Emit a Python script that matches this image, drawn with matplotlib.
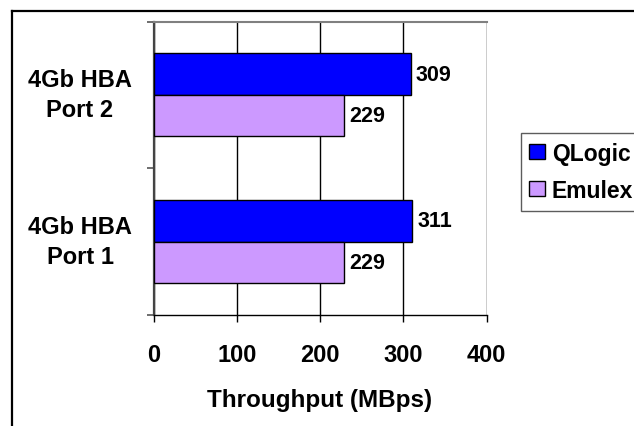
import matplotlib
matplotlib.use("Agg")
import matplotlib.pyplot as plt
import matplotlib.transforms as mtransforms
from matplotlib.lines import Line2D
from matplotlib.patches import Patch
import numpy as np

plt.rcParams['font.family'] = ['Liberation Sans', 'DejaVu Sans']
plt.rcParams['font.weight'] = 'bold'

# Data
categories = ["4Gb HBA\nPort 1", "4Gb HBA\nPort 2"]
series_names = ["QLogic", "Emulex"]
qlogic = [311, 309]
emulex = [229, 229]
x_ticks = [0, 100, 200, 300, 400]

colors = {"QLogic": "#0000FF", "Emulex": "#CC99FF"}

W, H, DPI = 634, 427, 100
fig = plt.figure(figsize=(W / DPI, H / DPI), dpi=DPI)

left, right = 153.5 / W, 486.5 / W
bottom, top = 1 - 316 / H, 1 - 22.5 / H
ax = fig.add_axes([left, bottom, right - left, top - bottom])

# Outer chart frame (runs off the right and bottom edges)
fx, fy = 11.5 / W, 1 - 11.5 / H
fig.add_artist(Line2D([fx, fx], [0.0, fy], transform=fig.transFigure,
                      color="black", linewidth=1.6, zorder=10))
fig.add_artist(Line2D([fx, 0.999], [fy, fy], transform=fig.transFigure,
                      color="black", linewidth=1.6, zorder=10))

centers = np.arange(len(categories)) + 0.5
h = 0.283
b1 = ax.barh(centers + h / 2, qlogic, height=h, color=colors["QLogic"],
             edgecolor="black", linewidth=1.0, zorder=3, label="QLogic")
b2 = ax.barh(centers - h / 2, emulex, height=h, color=colors["Emulex"],
             edgecolor="black", linewidth=1.0, zorder=3, label="Emulex")

for bars in (b1, b2):
    ax.bar_label(bars, labels=[f"{v:g}" for v in bars.datavalues], padding=3.5,
                 fontsize=15.5, fontweight="bold", color="black")

ax.set_xlim(0, 400)
ax.set_ylim(0, len(categories))
ax.set_xticks(x_ticks)
ax.set_xticklabels([str(t) for t in x_ticks], fontsize=17, fontweight="bold")
ax.tick_params(axis="x", direction="out", length=5, width=1, pad=15, colors="black")
ax.set_yticks(np.arange(len(categories) + 1))
ax.set_yticklabels([])
ax.tick_params(axis="y", direction="out", length=5, width=1.2, color="#555555")

ax.xaxis.grid(True, color="black", linewidth=1.0, zorder=1)
ax.set_axisbelow(True)

ax.spines["right"].set_visible(False)
ax.spines["top"].set_color("#808080")
ax.spines["top"].set_linewidth(1.5)
ax.spines["left"].set_color("#444444")
ax.spines["left"].set_linewidth(1.6)
ax.spines["bottom"].set_color("black")
ax.spines["bottom"].set_linewidth(1.0)

# Category labels centred to the left of the axis
trans = mtransforms.blended_transform_factory(ax.transAxes, ax.transData)
for c, lab in zip(centers, categories):
    ax.text(-0.2207, c, lab, transform=trans, ha="center", va="center",
            multialignment="center", fontsize=17, fontweight="bold",
            linespacing=1.38)

ax.set_xlabel("Throughput (MBps)", fontsize=17.5, fontweight="bold", labelpad=16)

handles = [Patch(facecolor=colors[n], edgecolor="black", linewidth=1.0) for n in series_names]
leg = fig.legend(handles, series_names, loc="upper left",
                 bbox_to_anchor=(520.7 / W, 1 - 134 / H), fontsize=16.5,
                 frameon=True, fancybox=False, edgecolor="#333333",
                 handlelength=0.66, handleheight=0.62, handletextpad=0.32,
                 borderpad=0.38, labelspacing=0.62, borderaxespad=0)
leg.get_frame().set_linewidth(1.0)

fig.savefig("out.png", dpi=DPI)
